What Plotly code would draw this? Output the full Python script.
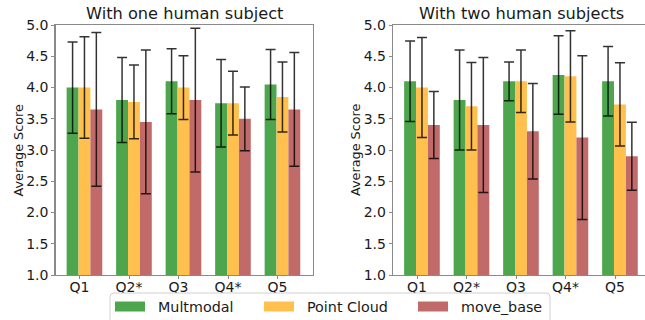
import plotly.graph_objects as go

# ---- data ----
questions = ["Q1", "Q2*", "Q3", "Q4*", "Q5"]
series_names = ["Multmodal", "Point Cloud", "move_base"]

one_multimodal = [4.00, 3.80, 4.10, 3.75, 4.05]
one_multimodal_err = [0.73, 0.68, 0.52, 0.70, 0.56]
one_pointcloud = [4.00, 3.77, 4.00, 3.75, 3.85]
one_pointcloud_err = [0.81, 0.59, 0.51, 0.51, 0.56]
one_movebase = [3.65, 3.45, 3.80, 3.50, 3.65]
one_movebase_err = [1.23, 1.15, 1.15, 0.51, 0.91]

two_multimodal = [4.10, 3.80, 4.10, 4.20, 4.10]
two_multimodal_err = [0.645, 0.80, 0.31, 0.63, 0.555]
two_pointcloud = [4.00, 3.70, 4.10, 4.18, 3.73]
two_pointcloud_err = [0.80, 0.70, 0.50, 0.73, 0.665]
two_movebase = [3.40, 3.40, 3.30, 3.20, 2.90]
two_movebase_err = [0.535, 1.08, 0.765, 1.31, 0.545]

titles = ["With one human subject", "With two human subjects"]
y_label = "Average Score"
y_ticks = [1.0, 1.5, 2.0, 2.5, 3.0, 3.5, 4.0, 4.5, 5.0]

# ---- styling ----
W, H = 645, 320
colors = ["#4da64d", "#ffc04d", "#c06a6a"]
bar_w = 0.24
offsets = [-0.26, -0.02, 0.22]
FONT = "DejaVu Sans"
TXT = "#1a1a1a"
SPINE = "#8a8a8a"

def px(x):
    # window pixel -> paper fraction
    return x / W

def py(y):
    return 1 - y / H

fig = go.Figure()
xpos = list(range(len(questions)))

panels = [
    ([one_multimodal, one_pointcloud, one_movebase],
     [one_multimodal_err, one_pointcloud_err, one_movebase_err], "x", "y"),
    ([two_multimodal, two_pointcloud, two_movebase],
     [two_multimodal_err, two_pointcloud_err, two_movebase_err], "x2", "y2"),
]
for vals, errs, xa, ya in panels:
    for k in range(3):
        fig.add_trace(go.Bar(
            x=xpos, y=vals[k], name=series_names[k],
            width=bar_w, offset=offsets[k],
            marker=dict(color=colors[k], line=dict(width=0)),
            error_y=dict(type="data", array=errs[k], visible=True,
                         color="rgba(0,0,0,0.8)", thickness=1.5, width=5),
            xaxis=xa, yaxis=ya, showlegend=False,
        ))

ppu = 49.5
r0 = -0.485
left_dom = [55.5, 313.0]
right_dom = [393.0, 645.0]
ydom = [py(275), py(25)]

axis_common = dict(
    showline=True, linecolor=SPINE, linewidth=1.3,
    ticks="outside", ticklen=3, tickcolor=SPINE, tickwidth=1,
    showgrid=False, zeroline=False, automargin=False,
    tickfont=dict(family=FONT, size=14, color=TXT),
)

fig.update_layout(
    width=W, height=H, autosize=False,
    margin=dict(l=0, r=0, t=0, b=0, pad=0),
    paper_bgcolor="white", plot_bgcolor="white",
    barmode="overlay",
    xaxis=dict(domain=[px(left_dom[0]), px(left_dom[1])],
               range=[r0, r0 + (left_dom[1] - left_dom[0]) / ppu],
               tickvals=xpos, ticktext=questions, mirror=True, anchor="y",
               ticklabelstandoff=-4, **axis_common),
    yaxis=dict(domain=ydom, range=[1, 5], tickvals=y_ticks,
               tickformat=".1f", mirror=True, anchor="x", **axis_common),
    xaxis2=dict(domain=[px(right_dom[0]), px(right_dom[1])],
                range=[r0, r0 + (right_dom[1] - right_dom[0]) / ppu],
                tickvals=xpos, ticktext=questions, mirror=True, anchor="y2",
                ticklabelstandoff=-4, **axis_common),
    yaxis2=dict(domain=ydom, range=[1, 5], tickvals=y_ticks,
                tickformat=".1f", mirror=False, anchor="x2", **axis_common),
)

annotations = []
# titles
for t, dom in zip(titles, [left_dom, [393.0, 650.0]]):
    annotations.append(dict(
        text=t, xref="paper", yref="paper",
        x=px((dom[0] + dom[1]) / 2), y=py(14.0),
        xanchor="center", yanchor="middle", showarrow=False,
        font=dict(family=FONT, size=16.2, color=TXT)))
# y labels
for xc in [17.5, 355.0]:
    annotations.append(dict(
        text=y_label, xref="paper", yref="paper",
        x=px(xc), y=py(150), textangle=-90,
        xanchor="center", yanchor="middle", showarrow=False,
        font=dict(family=FONT, size=12.8, color=TXT)))

# legend box (rounded) drawn above tick labels
bx0, bx1, by0, by1, rr = 110, 550, 293, 335, 4
def P(x, y):
    return f"{px(x)},{py(y)}"
path = (f"M {P(bx0 + rr, by0)} L {P(bx1 - rr, by0)} Q {P(bx1, by0)} {P(bx1, by0 + rr)} "
        f"L {P(bx1, by1)} L {P(bx0, by1)} L {P(bx0, by0 + rr)} Q {P(bx0, by0)} {P(bx0 + rr, by0)} Z")
shapes = [dict(type="path", path=path, xref="paper", yref="paper",
               fillcolor="white", line=dict(color="#d0d0d0", width=1), layer="above")]

swatch_x = [115, 264, 418]
text_x = [157, 305.5, 460]
for k in range(3):
    shapes.append(dict(type="rect", xref="paper", yref="paper",
                       x0=px(swatch_x[k]), x1=px(swatch_x[k] + 30),
                       y0=py(311.5), y1=py(301.5),
                       fillcolor=colors[k], line=dict(width=0), layer="above"))
    annotations.append(dict(
        text=series_names[k], xref="paper", yref="paper",
        x=px(text_x[k] - 1), y=py(306.5), xanchor="left", yanchor="middle",
        showarrow=False, font=dict(family=FONT, size=14.3, color=TXT)))

fig.update_layout(annotations=annotations, shapes=shapes)

# remove the page's default body margin so the figure fills the window
fig.write_html("out.html",
               config={"displayModeBar": False, "staticPlot": True},
               post_script="document.body.style.margin='0';document.body.style.overflow='hidden';")
